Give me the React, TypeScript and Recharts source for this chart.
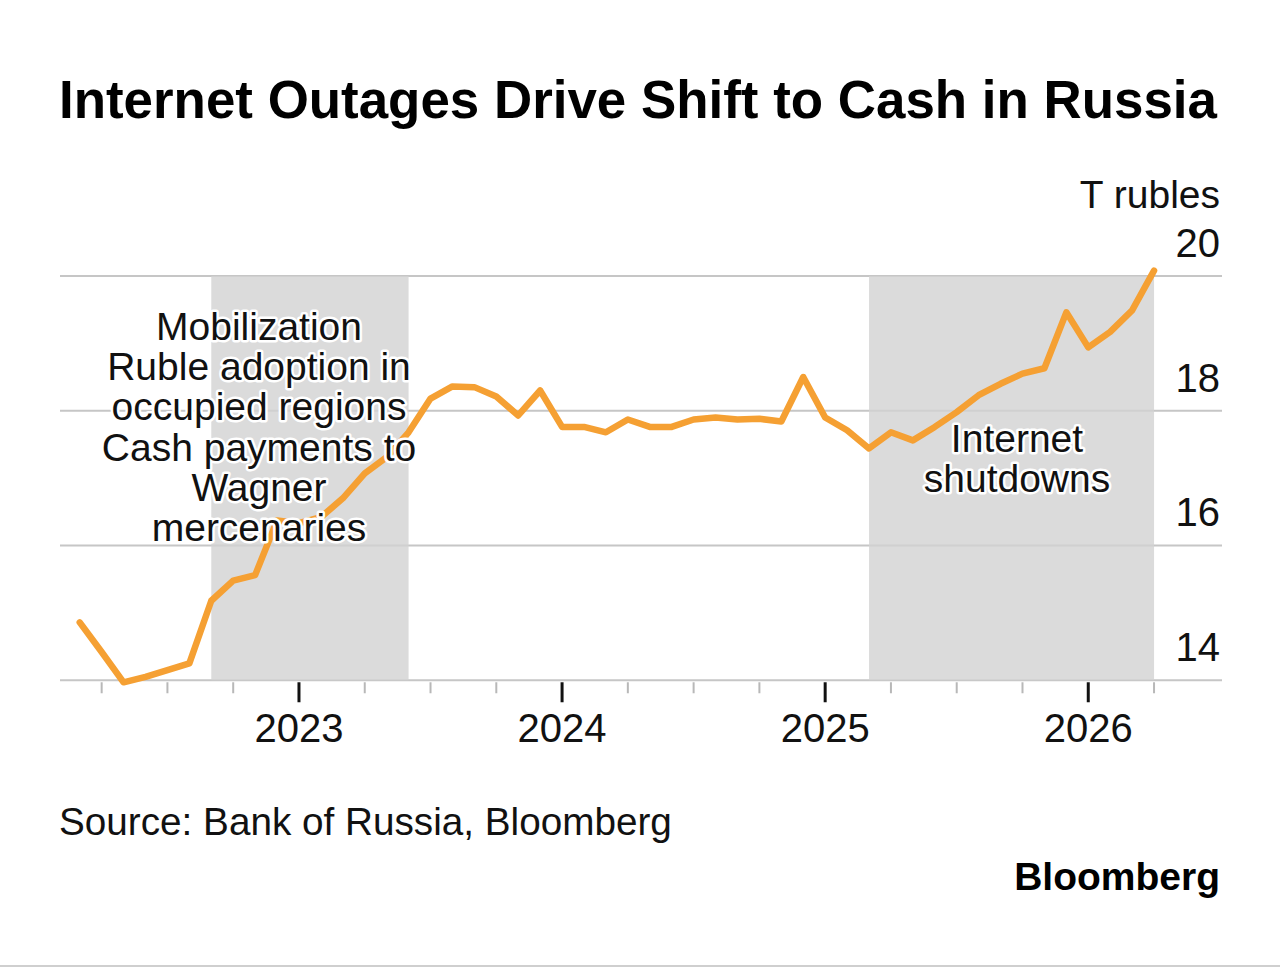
import { LineChart, Line, XAxis, YAxis, CartesianGrid, ReferenceArea } from 'recharts'

// monthly cash in circulation, trillion rubles
const MONTHS = [
  '2022-03', '2022-04', '2022-05', '2022-06', '2022-07', '2022-08', '2022-09', '2022-10', '2022-11', '2022-12',
  '2023-01', '2023-02', '2023-03', '2023-04', '2023-05', '2023-06', '2023-07', '2023-08', '2023-09', '2023-10',
  '2023-11', '2023-12', '2024-01', '2024-02', '2024-03', '2024-04', '2024-05', '2024-06', '2024-07', '2024-08',
  '2024-09', '2024-10', '2024-11', '2024-12', '2025-01', '2025-02', '2025-03', '2025-04', '2025-05', '2025-06',
  '2025-07', '2025-08', '2025-09', '2025-10', '2025-11', '2025-12', '2026-01', '2026-02', '2026-03', '2026-04',
]

const CASH = [
  14.86, 14.42, 13.97, 14.05, 14.15, 14.25, 15.18, 15.48, 15.56, 16.37,
  16.33, 16.42, 16.7, 17.07, 17.31, 17.68, 18.18, 18.36, 18.35, 18.21,
  17.93, 18.3, 17.76, 17.76, 17.68, 17.87, 17.76, 17.76, 17.87, 17.9,
  17.87, 17.88, 17.84, 18.5, 17.9, 17.71, 17.44, 17.68, 17.56, 17.76,
  17.98, 18.23, 18.4, 18.55, 18.63, 19.46, 18.94, 19.17, 19.49, 20.08,
]

const TICK_MONTHS = [
  '2022-04', '2022-07', '2022-10', '2023-01', '2023-04', '2023-07', '2023-10', '2024-01', '2024-04',
  '2024-07', '2024-10', '2025-01', '2025-04', '2025-07', '2025-10', '2026-01', '2026-04',
]

const Y_TICKS = [14, 16, 18, 20]

const SHADED_PERIODS = [
  ['2022-09', '2023-06'],
  ['2025-03', '2026-04'],
]

const NOTE_LEFT = ['Mobilization', 'Ruble adoption in', 'occupied regions', 'Cash payments to', 'Wagner', 'mercenaries']
const NOTE_RIGHT = ['Internet', 'shutdowns']

const FONT = '"Liberation Sans", Arial, Helvetica, sans-serif'
const ORANGE = '#f5a033'
const Y_MIN = 13.9
const AXIS_GAP = 6.74 // px between plot bottom and the 14 line

// months counted from Jan 2022
const toIndex = (m: string) => {
  const [y, mo] = m.split('-').map(Number)
  return (y - 2022) * 12 + (mo - 1)
}

const data = MONTHS.map((m, i) => ({ t: toIndex(m), value: CASH[i] }))
const ticks = TICK_MONTHS.map(toIndex)

function XTick({ x, y, payload }: any) {
  const major = payload.value % 12 === 0
  const axisY = y - AXIS_GAP
  return (
    <g>
      <line
        x1={x}
        x2={x}
        y1={axisY + 2}
        y2={axisY + (major ? 22 : 13)}
        stroke={major ? '#111' : '#b8b8b8'}
        strokeWidth={major ? 3 : 2}
      />
      {major && (
        <text x={x} y={axisY + 62} textAnchor="middle" fontSize={40} fill="#111" fontFamily={FONT}>
          {2022 + payload.value / 12}
        </text>
      )}
    </g>
  )
}

function YTick({ x, y, payload }: any) {
  return (
    <text x={x - 2} y={y - 19} textAnchor="end" fontSize={40} fill="#111" fontFamily={FONT}>
      {payload.value}
    </text>
  )
}

function Halo({ x, y, children }: any) {
  return (
    <text
      x={x}
      y={y}
      textAnchor="middle"
      fontSize={39}
      fill="#111"
      stroke="#fff"
      strokeWidth={5}
      strokeLinejoin="round"
      paintOrder="stroke"
      fontFamily={FONT}
    >
      {children}
    </text>
  )
}

export default function App() {
  return (
    <div style={{ position: 'absolute', left: 0, top: 0, width: 1280, height: 969, background: '#fff' }}>
      <LineChart width={1280} height={780} data={data} margin={{ top: 249, right: 0, bottom: 33, left: 60 }}>
        {SHADED_PERIODS.map(([a, b]) => (
          <ReferenceArea key={a} x1={toIndex(a)} x2={toIndex(b)} y1={14} y2={20} fill="#d2d2d2" fillOpacity={0.8} stroke="none" />
        ))}
        <CartesianGrid vertical={false} horizontalValues={Y_TICKS} stroke="#c6c6c6" strokeWidth={2} />
        <XAxis
          dataKey="t"
          type="number"
          domain={[1.1, 54.1]}
          ticks={ticks}
          interval={0}
          height={60}
          axisLine={false}
          tickLine={false}
          tickSize={0}
          tickMargin={0}
          tick={<XTick />}
          allowDataOverflow
        />
        <YAxis
          orientation="right"
          width={58}
          type="number"
          domain={[Y_MIN, 20.4]}
          ticks={Y_TICKS}
          interval={0}
          axisLine={false}
          tickLine={false}
          tickSize={0}
          tickMargin={0}
          tick={<YTick />}
          allowDataOverflow
        />
        <Line
          type="linear"
          dataKey="value"
          stroke={ORANGE}
          strokeWidth={6.5}
          strokeLinejoin="round"
          strokeLinecap="round"
          dot={false}
          isAnimationActive={false}
        />
      </LineChart>
      <svg width={1280} height={969} style={{ position: 'absolute', left: 0, top: 0, pointerEvents: 'none' }}>
        <text x={59} y={118} fontSize={52.9} fontWeight={700} fill="#000" fontFamily={FONT}>
          Internet Outages Drive Shift to Cash in Russia
        </text>
        <text x={1220} y={208} textAnchor="end" fontSize={39} fill="#111" fontFamily={FONT}>
          T rubles
        </text>
        {NOTE_LEFT.map((s, i) => (
          <Halo key={s} x={259} y={340 + i * 40.2}>
            {s}
          </Halo>
        ))}
        {NOTE_RIGHT.map((s, i) => (
          <Halo key={s} x={1017} y={452 + i * 39.5}>
            {s}
          </Halo>
        ))}
        <text x={59} y={835} fontSize={38.7} fill="#111" fontFamily={FONT}>
          Source: Bank of Russia, Bloomberg
        </text>
        <text x={1220} y={890} textAnchor="end" fontSize={39} fontWeight={700} fill="#000" fontFamily={FONT}>
          Bloomberg
        </text>
        <rect x={0} y={965} width={1280} height={2} fill="#cfcfcf" />
      </svg>
    </div>
  )
}
